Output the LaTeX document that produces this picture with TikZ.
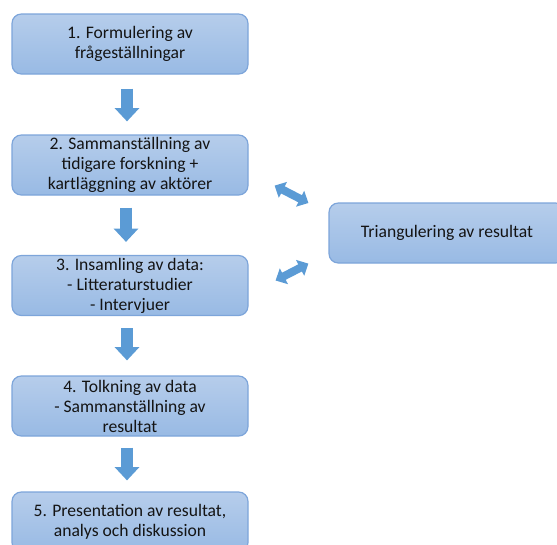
\documentclass[tikz,border=0pt]{standalone}
\usepackage{fontspec}
\setmainfont{Carlito}
\usetikzlibrary{arrows.meta}
\definecolor{boxtop}{RGB}{182,205,235}
\definecolor{boxbot}{RGB}{152,186,228}
\definecolor{boxline}{RGB}{125,165,218}
\definecolor{arrowblue}{RGB}{91,155,213}
\definecolor{textgray}{RGB}{20,20,20}

\begin{document}
\begin{tikzpicture}[x=0.75pt,y=-0.75pt,
  stepbox/.style={draw=boxline, line width=0.9pt, rounded corners=7pt,
    top color=boxtop, bottom color=boxbot, minimum width=177pt, minimum height=45pt,
    align=center, text=textgray, inner sep=0pt,
    font=\fontsize{13.2}{15}\selectfont},
  downarrow/.style={arrowblue, line width=8.5pt,
    -{Triangle[width=18pt,length=10pt]}},
  twoway/.style={arrowblue, line width=6pt,
    {Triangle[width=13pt,length=7pt]}-{Triangle[width=13pt,length=7pt]}}]
\clip (0,0) rectangle (557,544);
\useasboundingbox (0,0) rectangle (557,544);

\node[stepbox] (b1) at (130,44) {1. Formulering av\\frågeställningar};
\node[stepbox] (b2) at (130,165) {2. Sammanställning av\\tidigare forskning +\\kartläggning av aktörer};
\node[stepbox] (b3) at (130,285.5) {3. Insamling av data:\\- Litteraturstudier\\- Intervjuer};
\node[stepbox] (b4) at (130,406) {4. Tolkning av data\\- Sammanställning av\\resultat};
\node[stepbox] (b5) at (130,522) {5. Presentation av resultat,\\analys och diskussion};
\node[stepbox] (tri) at (447,233) {Triangulering av resultat};

\draw[downarrow] ([xshift=-2.25pt,yshift=-10.5pt]b1.south) -- ([xshift=-2.25pt,yshift=9.75pt]b2.north);
\draw[downarrow] ([xshift=-3pt,yshift=-9pt]b2.south) -- ([xshift=-3pt,yshift=9.75pt]b3.north);
\draw[downarrow] ([xshift=-2.25pt,yshift=-9pt]b3.south) -- ([xshift=-2.25pt,yshift=11.25pt]b4.north);
\draw[downarrow] ([xshift=-2.25pt,yshift=-8.25pt]b4.south) -- ([xshift=-2.25pt,yshift=8.25pt]b5.north);

\draw[twoway] ([shift={(26,-10)}]b2.south east) -- ([shift={(-20,-30)}]tri.west);
\draw[twoway] ([shift={(27,-5)}]b3.east) -- ([shift={(-20,0)}]tri.south west);
\end{tikzpicture}
\end{document}
